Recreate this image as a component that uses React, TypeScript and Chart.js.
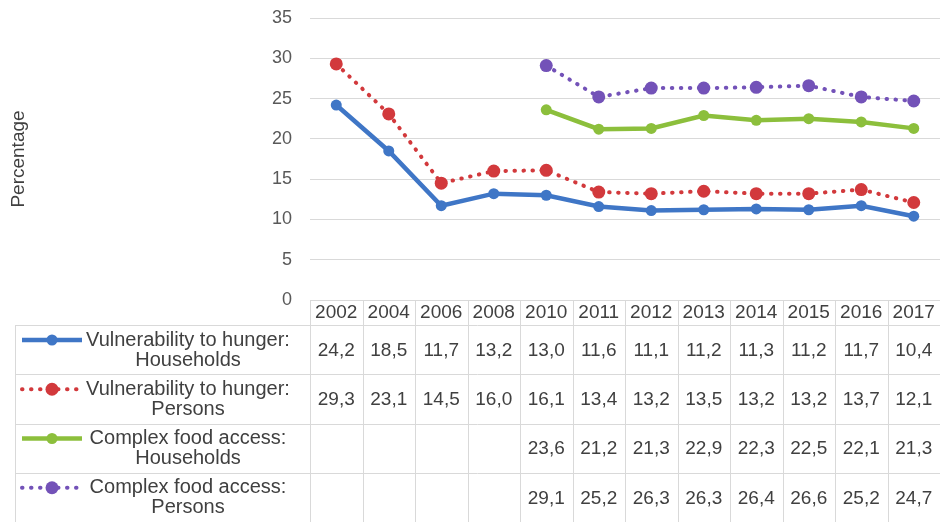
import React, { useEffect, useRef } from "react";
import { Chart, registerables } from "chart.js";

Chart.register(...registerables);

const years = ["2002", "2004", "2006", "2008", "2010", "2011", "2012", "2013", "2014", "2015", "2016", "2017"];
const hungerHouseholds: (number | null)[] = [24.2, 18.5, 11.7, 13.2, 13.0, 11.6, 11.1, 11.2, 11.3, 11.2, 11.7, 10.4];
const hungerPersons: (number | null)[] = [29.3, 23.1, 14.5, 16.0, 16.1, 13.4, 13.2, 13.5, 13.2, 13.2, 13.7, 12.1];
const foodHouseholds: (number | null)[] = [null, null, null, null, 23.6, 21.2, 21.3, 22.9, 22.3, 22.5, 22.1, 21.3];
const foodPersons: (number | null)[] = [null, null, null, null, 29.1, 25.2, 26.3, 26.3, 26.4, 26.6, 25.2, 24.7];
const seriesLabels: string[][] = [
  ["Vulnerability to hunger:", "Households"],
  ["Vulnerability to hunger:", "Persons"],
  ["Complex food access:", "Households"],
  ["Complex food access:", "Persons"],
];
const yAxisTitle = "Percentage";
const yMin = 0;
const yMax = 35;
const yStep = 5;

const BLUE = "#3f76c6";
const RED = "#d2393c";
const GREEN = "#8cbf3c";
const PURPLE = "#7352b8";
const FONT = '"Liberation Sans", Arial, sans-serif';
const TEXT = "#404040";
const LINE = "#d9d9d9";

const seriesStyles = [
  { color: BLUE, dash: [] as number[], width: 4.5, radius: 5.5 },
  { color: RED, dash: [0.5, 8.5], width: 4, radius: 6.5 },
  { color: GREEN, dash: [] as number[], width: 4.5, radius: 5.5 },
  { color: PURPLE, dash: [0.5, 8.5], width: 4, radius: 6.5 },
];
const seriesData = [hungerHouseholds, hungerPersons, foodHouseholds, foodPersons];

const fmt = (v: number | null) => (v == null ? "" : v.toFixed(1).replace(".", ","));

const tablePlugin = {
  id: "dataTable",
  afterDraw(chart: any) {
    const ctx = chart.ctx as CanvasRenderingContext2D;
    const area = chart.chartArea;
    const xs = chart.scales.x;
    const n = years.length;
    const colW = (area.right - area.left) / n;
    const headerTop = area.bottom;
    const headerBottom = headerTop + 25;
    const labelLeft = 15;
    const rowH = (chart.height - headerBottom) / seriesData.length;
    ctx.save();
    ctx.strokeStyle = LINE;
    ctx.lineWidth = 1;
    ctx.setLineDash([]);
    const hline = (x1: number, x2: number, y: number) => {
      ctx.beginPath();
      ctx.moveTo(x1, Math.round(y) + 0.5);
      ctx.lineTo(x2, Math.round(y) + 0.5);
      ctx.stroke();
    };
    const vline = (x: number, y1: number, y2: number) => {
      ctx.beginPath();
      ctx.moveTo(Math.round(x) + 0.5, y1);
      ctx.lineTo(Math.round(x) + 0.5, y2);
      ctx.stroke();
    };
    hline(area.left, area.right, headerTop);
    hline(labelLeft, area.right, headerBottom);
    for (let r = 1; r < seriesData.length; r++) hline(labelLeft, area.right, headerBottom + r * rowH);
    for (let i = 0; i <= n; i++) vline(area.left + i * colW, headerTop, chart.height);
    vline(labelLeft, headerBottom, chart.height);

    ctx.fillStyle = TEXT;
    ctx.textAlign = "center";
    ctx.textBaseline = "middle";
    ctx.font = `19px ${FONT}`;
    years.forEach((y, i) => {
      ctx.fillText(y, xs.getPixelForValue(i), headerTop + 13);
    });
    seriesData.forEach((arr, r) => {
      const cy = headerBottom + r * rowH + rowH / 2;
      ctx.font = `19px ${FONT}`;
      arr.forEach((v, i) => {
        if (v != null) ctx.fillText(fmt(v), xs.getPixelForValue(i), cy + 1);
      });
      const top = headerBottom + r * rowH;
      const lx = 188;
      ctx.font = `20px ${FONT}`;
      ctx.fillText(seriesLabels[r][0], lx, top + 15);
      ctx.fillText(seriesLabels[r][1], lx, top + 35);
      const st = seriesStyles[r];
      ctx.save();
      ctx.strokeStyle = st.color;
      ctx.lineWidth = st.width;
      ctx.lineCap = st.dash.length ? "round" : "butt";
      ctx.setLineDash(st.dash);
      ctx.beginPath();
      ctx.moveTo(22, top + 15);
      ctx.lineTo(82, top + 15);
      ctx.stroke();
      ctx.setLineDash([]);
      ctx.fillStyle = st.color;
      ctx.beginPath();
      ctx.arc(52, top + 15, st.radius, 0, Math.PI * 2);
      ctx.fill();
      ctx.restore();
    });
    ctx.restore();
  },
};

export default function App() {
  const ref = useRef<HTMLCanvasElement>(null);
  useEffect(() => {
    if (!ref.current) return;
    const chart = new Chart(ref.current, {
      type: "line",
      data: {
        labels: years,
        datasets: seriesData.map((d, i) => ({
          label: seriesLabels[i].join(" "),
          data: d,
          borderColor: seriesStyles[i].color,
          backgroundColor: seriesStyles[i].color,
          borderWidth: seriesStyles[i].width,
          borderDash: seriesStyles[i].dash,
          borderCapStyle: seriesStyles[i].dash.length ? "round" : "butt",
          pointRadius: seriesStyles[i].radius,
          pointBorderWidth: 0,
          pointBackgroundColor: seriesStyles[i].color,
          tension: 0,
          fill: false,
        })) as any,
      },
      options: {
        animation: false,
        responsive: false,
        devicePixelRatio: 1,
        layout: { autoPadding: false, padding: { top: 18, right: 0, bottom: 222, left: 0 } },
        plugins: { legend: { display: false }, tooltip: { enabled: false } },
        scales: {
          x: { type: "category", display: false, offset: true },
          y: {
            min: yMin,
            max: yMax,
            ticks: { stepSize: yStep, color: "#595959", font: { size: 18, family: FONT }, padding: 18 },
            grid: { color: LINE, drawTicks: false, lineWidth: 1 },
            border: { display: false },
            title: {
              display: true,
              text: yAxisTitle,
              color: "#404040",
              font: { size: 19, family: FONT },
              padding: { top: 7, bottom: 0 },
            },
            afterFit: (scale: any) => {
              scale.width = 310;
              scale.paddingTop = 0;
              scale.paddingBottom = 0;
            },
          },
        },
      },
      plugins: [tablePlugin],
    });
    return () => chart.destroy();
  }, []);
  return (
    <div style={{ position: "absolute", left: 0, top: 0, width: 940, height: 522, background: "#fff" }}>
      <canvas ref={ref} width={940} height={522} style={{ width: 940, height: 522, display: "block" }} />
    </div>
  );
}
